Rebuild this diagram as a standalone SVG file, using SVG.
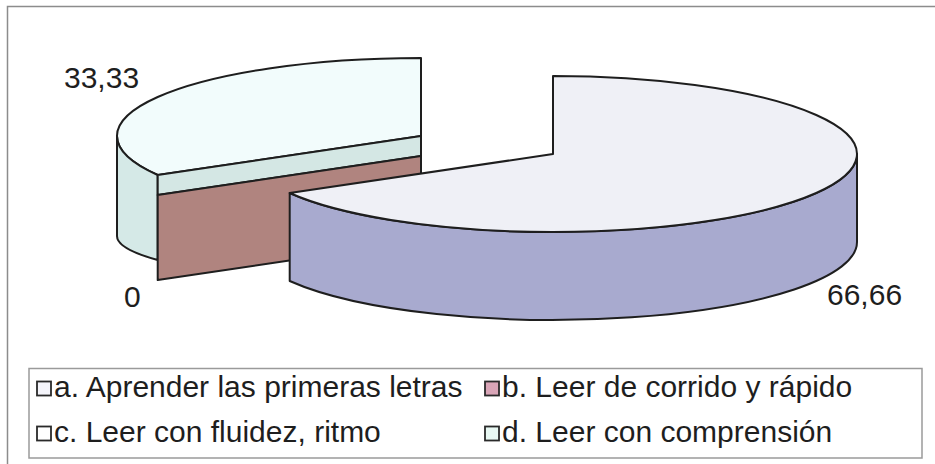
<svg xmlns="http://www.w3.org/2000/svg" width="935" height="464" viewBox="0 0 935 464">
  <style>
    .edge { stroke: #1e1e1e; stroke-width: 2; stroke-linejoin: round; }
    .lbl { font-family: "Liberation Sans", Arial, sans-serif; font-size: 30px; fill: #1e1e1e; }
    .leg { font-family: "Liberation Sans", Arial, sans-serif; font-size: 30px; fill: #1e1e1e; }
    .sw { stroke: #2a2a2a; stroke-width: 1.8; }
  </style>
  <rect x="0" y="0" width="935" height="464" fill="#ffffff"/>
  <g id="frame" fill="none" stroke="#8c8c8c" stroke-width="1.5">
    <path d="M 7.5 464 L 7.5 6.5 L 935 6.5"/>
  </g>

  <!-- small exploded slice (d), with zero-value slices c and b on its cut face -->
  <g id="slice-d">
    <path class="edge" fill="#f2fcfc" d="M 421 136 L 157.7 175 A 304 78 0 0 1 421 58 Z"/>
    <path class="edge" fill="#d5e9e7" d="M 157.7 175 A 304 78 0 0 1 117 136 L 117 236 A 304 48 0 0 0 157.7 260 Z"/>
  </g>
  <g id="slice-c">
    <path class="edge" fill="#d4e7e4" d="M 157.7 175 L 421 136 L 421 156 L 157.7 195 Z"/>
  </g>
  <g id="slice-b">
    <path class="edge" fill="#b0847f" d="M 157.7 195 L 421 156 L 421 241 L 157.7 280 Z"/>
  </g>

  <!-- large slice (a) -->
  <g id="slice-a">
    <path class="edge" fill="#a8aacf" d="M 857 154 A 304 78 0 0 1 289.7 193 L 289.7 281 A 304 78 0 0 0 857 242 Z"/>
    <path class="edge" fill="#eff0f6" d="M 553 154 L 553 76 A 304 78 0 1 1 289.7 193 Z"/>
  </g>

  <g id="labels">
    <text class="lbl" x="64" y="88">33,33</text>
    <text class="lbl" x="124" y="307">0</text>
    <text class="lbl" x="827" y="305">66,66</text>
  </g>

  <g id="legend">
    <rect x="29" y="368.5" width="893" height="89.5" fill="#ffffff" stroke="#9a9a9a" stroke-width="1.5"/>
    <g id="legend-a">
      <rect class="sw" x="37" y="381.5" width="14" height="14" fill="#f5f5fb"/>
      <text class="leg" x="54" y="397">a. Aprender las primeras letras</text>
    </g>
    <g id="legend-b">
      <rect class="sw" x="485" y="381.5" width="14" height="14" fill="#d9a5b7"/>
      <text class="leg" x="502" y="397">b. Leer de corrido y rápido</text>
    </g>
    <g id="legend-c">
      <rect class="sw" x="37" y="426.5" width="14" height="14" fill="#ffffff"/>
      <text class="leg" x="54" y="442">c. Leer con fluidez, ritmo</text>
    </g>
    <g id="legend-d">
      <rect class="sw" x="485" y="426.5" width="14" height="14" fill="#e8f8f3"/>
      <text class="leg" x="502" y="442">d. Leer con comprensión</text>
    </g>
  </g>
</svg>
